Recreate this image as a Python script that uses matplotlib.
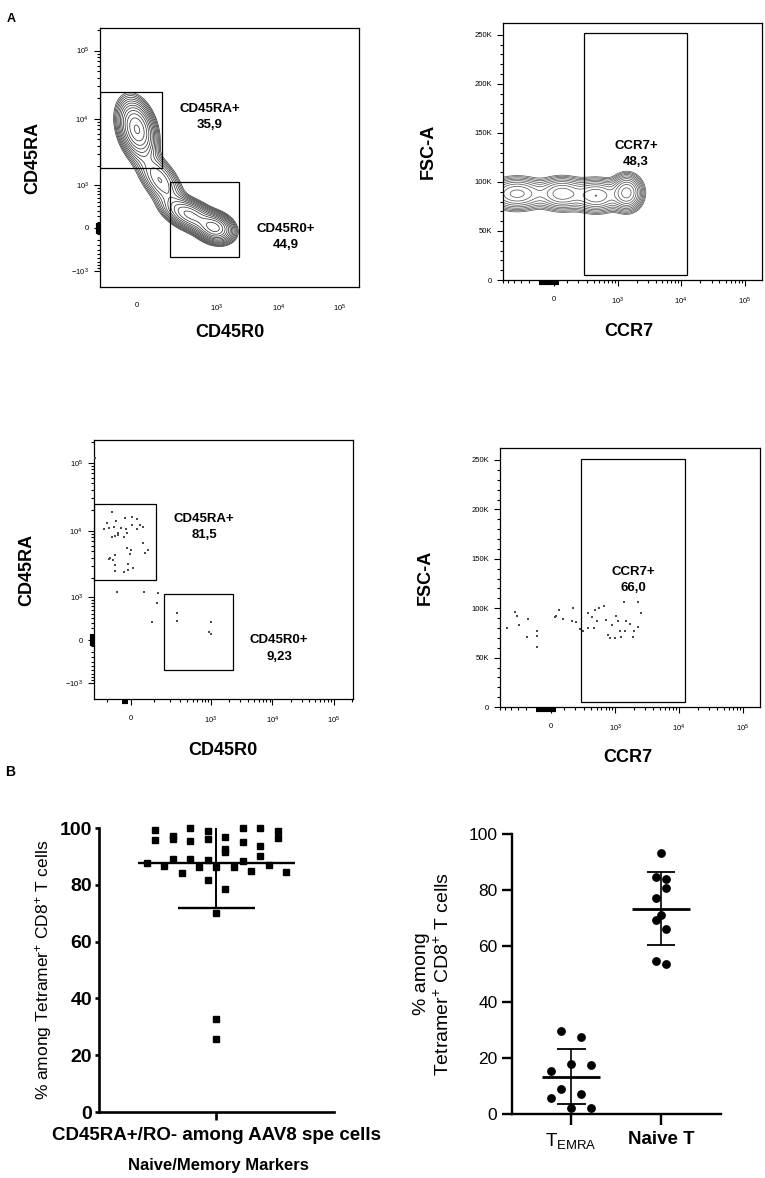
import numpy as np
import matplotlib
matplotlib.use("Agg")
import matplotlib.pyplot as plt
import matplotlib.transforms as mtransforms
from matplotlib.patches import Rectangle
from matplotlib.ticker import NullFormatter

plt.rcParams['font.family'] = ['Liberation Sans', 'DejaVu Sans']
plt.rcParams['mathtext.fontset'] = 'custom'
plt.rcParams['mathtext.rm'] = 'Liberation Sans'
plt.rcParams['mathtext.it'] = 'Liberation Sans:italic'
plt.rcParams['mathtext.bf'] = 'Liberation Sans:bold'
plt.rcParams['mathtext.default'] = 'regular'

# ------------------------------------------------------------------
# display scales (arcsinh linear widths) and axis ranges
# ------------------------------------------------------------------
W_RO = 100        # CD45R0 axis
W_RA = 500        # CD45RA axis
W_CCR7 = 200      # CCR7 axis
CD45RO_LIM = (-187, 205000)
CD45RA_LIM = (-1800, 215000)
CCR7_LIM = (-610, 186000)
FSC_LIM = (0, 262144)

# ------------------------------------------------------------------
# panel A, top row: contour plots of total CD8 T cells
# sub-populations (centre in data units, spread in arcsinh units)
# ------------------------------------------------------------------
pop_cd45ro = [0, 97, 359, 925]
pop_cd45ra = [7000, 1210, 227, 0]
pop_cd45ro_sd = [0.35, 0.45, 0.5, 0.35]
pop_cd45ra_sd = [0.5, 0.5, 0.3, 0.25]
pop_cd45_rho = [-0.3, -0.6, -0.5, -0.2]
pop_cd45_weight = [1.0, 0.35, 0.8, 1.0]

pop_ccr7 = [-350, 60, 450, 1400]
pop_fsc = [88000, 88000, 86000, 89000]
pop_ccr7_sd = [0.55, 0.45, 0.45, 0.28]
pop_fsc_sd = [8500, 8500, 8500, 9000]
pop_ccr7_weight = [0.55, 0.6, 0.65, 1.0]

# gates: x0, x1, y0, y1
gate_ra = [-187, 108, 1850, 24500]
gate_ro = [158, 2250, -585, 1110]
gate_ccr7 = [262, 12400, 5000, 251500]
gate_names_cd45 = ['CD45RA+', 'CD45R0+']
freq_cd45_total = ['35,9', '44,9']
freq_cd45_spe = ['81,5', '9,23']
gate_name_ccr7 = 'CCR7+'
freq_ccr7_total = '48,3'
freq_ccr7_spe = '66,0'

# ------------------------------------------------------------------
# panel A, bottom row: AAV8-specific events (arcsinh display units)
# ------------------------------------------------------------------
spe_ro_asinh = [-0.725, -0.91, -0.56, -0.225, 0.05, 0.21, 0.46, 0.34, -1.01, -0.81,
                -0.64, -0.39, -0.19, 0.03, 0.24, -0.475, -0.725, -0.60, -0.475, -0.26,
                -0.16, 0.46, 0.525, 0.65, -0.16, 0.0, -0.04, -0.79, -0.60, -0.81,
                -0.66, -0.60, -0.10, 0.075, -0.60, -0.26, -0.10, -0.54, 0.49, 1.025,
                0.99, 0.775, 1.74, 1.71, 2.99, 2.925, 3.0, -1.33]
spe_ra_asinh = [4.32, 3.94, 4.02, 4.11, 4.16, 4.08, 3.83, 3.89, 3.74, 3.80,
                3.82, 3.80, 3.74, 3.89, 3.75, 3.63, 3.48, 3.51, 3.54, 3.48,
                3.60, 3.29, 2.94, 3.04, 3.12, 3.03, 2.89, 2.78, 2.87, 2.73,
                2.69, 2.53, 2.58, 2.44, 2.33, 2.31, 2.35, 1.61, 1.63, 1.60,
                1.24, 0.62, 0.92, 0.64, 0.62, 0.28, 0.21, 6.16]
spe_ccr7_asinh = [-1.58, -1.28, -1.24, -1.155, -0.81, -0.87, -0.505, -0.49, -0.52, 0.13,
                  0.17, 0.29, 0.445, 0.79, 0.745, 0.915, 1.05, 1.17, 1.335, 1.35,
                  1.49, 1.55, 1.59, 1.73, 1.91, 2.0, 2.05, 2.12, 2.30, 2.335,
                  2.43, 2.48, 2.54, 2.635, 2.66, 2.695, 2.84, 2.96, 3.0, 3.12,
                  3.15, 3.26, 1.67, 2.21]
spe_fsc = [80300, 96600, 92500, 83300, 88700, 71100, 77200, 71800, 61000, 90800,
           92500, 98600, 89100, 100300, 87400, 85700, 79300, 76500, 80300, 95500,
           91400, 79600, 98200, 100600, 101900, 88400, 72800, 69400, 69400, 91800,
           87400, 77200, 71100, 106400, 77200, 87400, 84000, 71100, 76500, 106400,
           81300, 95500, 87400, 83300]

# ------------------------------------------------------------------
# panel B data
# ------------------------------------------------------------------
naive_mem_pct = [99.4, 95.7, 97.2, 96.0, 100, 95.5, 99, 96.1, 96.7, 92.7,
                 91.5, 100, 95, 100, 93.7, 90, 98.8, 96.5, 87.8, 86.5,
                 89, 84.2, 89, 86.4, 88.6, 86.3, 81.6, 78.5, 86.3, 88.3,
                 85, 87.1, 84.5, 70.2, 32.6, 25.8]
naive_mem_slot = [-7, -7, -5, -5, -3, -3, -1, -1, 1, 1,
                  1, 3, 3, 5, 5, 5, 7, 7, -8, -6,
                  -5, -4, -3, -2, -1, 0, -1, 1, 2, 3,
                  4, 6, 8, 0, 0, 0]
naive_mem_label = 'CD45RA+/RO- among AAV8 spe cells'

subset_names = [r'T$_{EMRA}$', 'Naive T']
temra_pct = [29.8, 27.5, 15.2, 17.7, 17.4, 9.0, 7.0, 5.6, 2.3, 2.0]
temra_slot = [-1, 1, -2, 0, 2, -1, 1, -2, 0, 2]
naive_pct = [93.3, 84.5, 83.9, 80.6, 77.0, 71.1, 69.3, 66.0, 54.5, 53.6]
naive_slot = [0, -0.55, 0.55, 0.55, -0.55, 0, -0.55, 0.55, -0.55, 0.55]

# ------------------------------------------------------------------
# helpers
# ------------------------------------------------------------------
LOG_MINORS = np.concatenate([np.arange(-900, 0, 100), np.arange(100, 1000, 100),
                             np.arange(2000, 10000, 1000), np.arange(20000, 100000, 10000),
                             [200000]])
X_MAJ = [0, 1e3, 1e4, 1e5]
X_LAB = ['0', r'$10^{3}$', r'$10^{4}$', r'$10^{5}$']
Y_MAJ = [-1e3, 0, 1e3, 1e4, 1e5]
Y_LAB = [r'$-10^{3}$', '0', r'$10^{3}$', r'$10^{4}$', r'$10^{5}$']
TICK_FS = 5.5


def asinh_axis(ax, which, width, lim, majors, labels):
    minors = [m for m in LOG_MINORS if lim[0] < m < lim[1]]
    if which == 'x':
        ax.set_xscale('asinh', linear_width=width)
        ax.set_xlim(lim)
        ax.set_xticks(majors, labels)
        ax.set_xticks(minors, minor=True)
        ax.xaxis.set_minor_formatter(NullFormatter())
    else:
        ax.set_yscale('asinh', linear_width=width)
        ax.set_ylim(lim)
        ax.set_yticks(majors, labels)
        ax.set_yticks(minors, minor=True)
        ax.yaxis.set_minor_formatter(NullFormatter())


def fsc_axis(ax):
    ax.set_ylim(FSC_LIM)
    ax.set_yticks([0, 50000, 100000, 150000, 200000, 250000],
                  ['0', '50K', '100K', '150K', '200K', '250K'])
    ax.set_yticks(np.arange(10000, 260000, 10000), minor=True)


def flow_frame(ax, xticks=True):
    for s in ax.spines.values():
        s.set_linewidth(0.9)
    ax.tick_params(axis='both', which='both', direction='out', width=0.8,
                   labelsize=TICK_FS, top=False, right=False)
    ax.tick_params(axis='both', which='major', length=4)
    ax.tick_params(axis='both', which='minor', length=2.2)
    ax.tick_params(axis='y', which='major', pad=4)
    if xticks:
        ax.tick_params(axis='x', which='major', pad=7.5)
    else:
        ax.tick_params(axis='x', which='both', length=0)
        ax.tick_params(axis='x', which='major', pad=11)


def mixture_density(gx, gy, cx, cy, sx, sy, rho, wt):
    z = np.zeros_like(gx)
    for a, b, s1, s2, r, w in zip(cx, cy, sx, sy, rho, wt):
        u = (gx - a) / s1
        v = (gy - b) / s2
        z += w * np.exp(-(u * u - 2 * r * u * v + v * v) / (2 * (1 - r * r)))
    return z


def gate(ax, g):
    ax.add_patch(Rectangle((g[0], g[2]), g[1] - g[0], g[3] - g[2], fill=False,
                           edgecolor='black', linewidth=0.9, zorder=4))


def gate_label(ax, x, y, text):
    ax.text(x, y, text, transform=ax.transAxes, ha='center', va='center',
            fontsize=9.5, fontweight='bold', linespacing=1.45)


def pile_y(ax, y0, y1):
    tr = mtransforms.blended_transform_factory(ax.transAxes, ax.transData)
    ax.plot([-0.008, -0.008], [y0, y1], transform=tr, color='black', lw=3,
            solid_capstyle='butt', clip_on=False)


def pile_x(ax, x0, x1):
    tr = mtransforms.blended_transform_factory(ax.transData, ax.transAxes)
    ax.plot([x0, x1], [-0.012, -0.012], transform=tr, color='black', lw=3,
            solid_capstyle='butt', clip_on=False)


fig = plt.figure(figsize=(7.65, 11.78), dpi=100)

# ------------------------------------------------------------------
# A1: CD45R0 vs CD45RA contour
# ------------------------------------------------------------------
ax1 = fig.add_axes([0.1307, 0.7564, 0.3386, 0.2199])
asinh_axis(ax1, 'x', W_RO, CD45RO_LIM, X_MAJ, X_LAB)
asinh_axis(ax1, 'y', W_RA, CD45RA_LIM, Y_MAJ, Y_LAB)
tx = np.linspace(np.arcsinh(CD45RO_LIM[0] / W_RO) - 0.3, np.arcsinh(CD45RO_LIM[1] / W_RO), 420)
ty = np.linspace(np.arcsinh(CD45RA_LIM[0] / W_RA) - 0.3, np.arcsinh(CD45RA_LIM[1] / W_RA), 420)
GX, GY = np.meshgrid(tx, ty)
Z = mixture_density(GX, GY, np.arcsinh(np.array(pop_cd45ro) / W_RO),
                    np.arcsinh(np.array(pop_cd45ra) / W_RA),
                    pop_cd45ro_sd, pop_cd45ra_sd, pop_cd45_rho, pop_cd45_weight)
ax1.contour(W_RO * np.sinh(GX), W_RA * np.sinh(GY), Z,
            levels=Z.max() * np.geomspace(0.04, 0.85, 13),
            colors='#3a3a3a', linewidths=0.55)
gate(ax1, gate_ra)
gate(ax1, gate_ro)
gate_label(ax1, 0.425, 0.656, gate_names_cd45[0] + '\n' + freq_cd45_total[0])
gate_label(ax1, 0.718, 0.193, gate_names_cd45[1] + '\n' + freq_cd45_total[1])
pile_y(ax1, -110, 90)
flow_frame(ax1, xticks=False)
ax1.set_xlabel('CD45R0', fontsize=13, fontweight='bold', va='center')
ax1.xaxis.set_label_coords(0.5, -0.174)
ax1.set_ylabel('CD45RA', fontsize=13, fontweight='bold', va='center')
ax1.yaxis.set_label_coords(-0.259, 0.5)

# ------------------------------------------------------------------
# A2: CCR7 vs FSC-A contour
# ------------------------------------------------------------------
ax2 = fig.add_axes([0.6575, 0.7623, 0.3386, 0.2182])
asinh_axis(ax2, 'x', W_CCR7, CCR7_LIM, X_MAJ, X_LAB)
fsc_axis(ax2)
tx = np.linspace(np.arcsinh(CCR7_LIM[0] / W_CCR7) - 0.6, np.arcsinh(CCR7_LIM[1] / W_CCR7), 420)
ty = np.linspace(0, FSC_LIM[1], 420)
GX, GY = np.meshgrid(tx, ty)
Z = mixture_density(GX, GY, np.arcsinh(np.array(pop_ccr7) / W_CCR7), np.array(pop_fsc),
                    pop_ccr7_sd, pop_fsc_sd, [0, 0, 0, 0], pop_ccr7_weight)
ax2.contour(W_CCR7 * np.sinh(GX), GY, Z,
            levels=Z.max() * np.geomspace(0.05, 0.85, 11),
            colors='#5a5a5a', linewidths=0.55)
gate(ax2, gate_ccr7)
gate_label(ax2, 0.514, 0.492, gate_name_ccr7 + '\n' + freq_ccr7_total)
pile_x(ax2, -115, 36)
flow_frame(ax2)
ax2.set_xlabel('CCR7', fontsize=13, fontweight='bold', va='center')
ax2.xaxis.set_label_coords(0.486, -0.202)
ax2.set_ylabel('FSC-A', fontsize=13, fontweight='bold', va='center')
ax2.yaxis.set_label_coords(-0.288, 0.5)

# ------------------------------------------------------------------
# A3: AAV8-specific CD45R0 vs CD45RA dots
# ------------------------------------------------------------------
ax3 = fig.add_axes([0.1229, 0.4066, 0.3386, 0.2199])
asinh_axis(ax3, 'x', W_RO, CD45RO_LIM, X_MAJ, X_LAB)
asinh_axis(ax3, 'y', W_RA, CD45RA_LIM, Y_MAJ, Y_LAB)
ax3.scatter(W_RO * np.sinh(np.array(spe_ro_asinh)), W_RA * np.sinh(np.array(spe_ra_asinh)),
            s=0.9, c='#4a4a4a', marker='s', linewidths=0, zorder=3)
gate(ax3, gate_ra)
gate(ax3, gate_ro)
gate_label(ax3, 0.425, 0.664, gate_names_cd45[0] + '\n' + freq_cd45_spe[0])
gate_label(ax3, 0.714, 0.195, gate_names_cd45[1] + '\n' + freq_cd45_spe[1])
pile_y(ax3, -100, 100)
pile_x(ax3, -35, -11)
flow_frame(ax3)
ax3.set_xlabel('CD45R0', fontsize=13, fontweight='bold', va='center')
ax3.xaxis.set_label_coords(0.496, -0.197)
ax3.set_ylabel('CD45RA', fontsize=13, fontweight='bold', va='center')
ax3.yaxis.set_label_coords(-0.26, 0.5)

# ------------------------------------------------------------------
# A4: AAV8-specific CCR7 vs FSC-A dots
# ------------------------------------------------------------------
ax4 = fig.add_axes([0.6536, 0.3998, 0.3399, 0.2199])
asinh_axis(ax4, 'x', W_CCR7, CCR7_LIM, X_MAJ, X_LAB)
fsc_axis(ax4)
ax4.scatter(W_CCR7 * np.sinh(np.array(spe_ccr7_asinh)), spe_fsc,
            s=0.9, c='#4a4a4a', marker='s', linewidths=0, zorder=3)
gate(ax4, gate_ccr7)
gate_label(ax4, 0.512, 0.492, gate_name_ccr7 + '\n' + freq_ccr7_spe)
pile_x(ax4, -115, 36)
flow_frame(ax4)
ax4.set_xlabel('CCR7', fontsize=13, fontweight='bold', va='center')
ax4.xaxis.set_label_coords(0.492, -0.193)
ax4.set_ylabel('FSC-A', fontsize=13, fontweight='bold', va='center')
ax4.yaxis.set_label_coords(-0.286, 0.5)

# ------------------------------------------------------------------
# B left: CD45RA+/RO- among AAV8 specific cells
# ------------------------------------------------------------------
axb1 = fig.add_axes([0.1294, 0.0560, 0.3072, 0.2411])
vals = np.array(naive_mem_pct)
m, sd = vals.mean(), vals.std(ddof=1)
axb1.plot(np.array(naive_mem_slot) * 0.0743, vals, ls='none', marker='s', ms=4.8,
          color='black', clip_on=False, zorder=2)
axb1.hlines(m, -0.672, 0.672, color='black', lw=1.7, zorder=3)
axb1.vlines(0, m - sd, m + sd, color='black', lw=1.4, zorder=3)
axb1.hlines([m - sd, m + sd], -0.33, 0.33, color='black', lw=1.7, zorder=3)
axb1.set_xlim(-1, 1)
axb1.set_ylim(0, 100)
axb1.set_yticks([0, 20, 40, 60, 80, 100])
axb1.set_xticks([0], [naive_mem_label])
for s in ['top', 'right']:
    axb1.spines[s].set_visible(False)
for s in ['left', 'bottom']:
    axb1.spines[s].set_linewidth(1.9)
axb1.tick_params(axis='y', length=3, width=1.9, pad=2, labelsize=14)
axb1.tick_params(axis='x', length=6, width=1.9, pad=5, labelsize=13.5)
for t in axb1.get_yticklabels() + axb1.get_xticklabels():
    t.set_fontweight('bold')
axb1.set_ylabel(r'% among Tetramer$^{+}$ CD8$^{+}$ T cells', fontsize=12.5, va='center')
axb1.yaxis.set_label_coords(-0.238, 0.5)
axb1.set_xlabel('Naive/Memory Markers', fontsize=12, fontweight='bold', va='center')
axb1.xaxis.set_label_coords(0.509, -0.187)

# ------------------------------------------------------------------
# B right: TEMRA vs naive T
# ------------------------------------------------------------------
axb2 = fig.add_axes([0.6693, 0.0543, 0.2732, 0.2377])
for i, (v, sl) in enumerate([(temra_pct, temra_slot), (naive_pct, naive_slot)]):
    v = np.array(v)
    m, sd = v.mean(), v.std(ddof=1)
    axb2.plot(i + np.array(sl) * 0.111, v, ls='none', marker='o', ms=5.3,
              color='black', clip_on=False, zorder=2)
    axb2.hlines(m, i - 0.324, i + 0.324, color='black', lw=2.0, zorder=3)
    axb2.vlines(i, m - sd, m + sd, color='black', lw=1.2, zorder=3)
    axb2.hlines([m - sd, m + sd], i - 0.161, i + 0.161, color='black', lw=1.3, zorder=3)
axb2.set_xlim(-0.656, 1.667)
axb2.set_ylim(0, 100)
axb2.set_yticks([0, 20, 40, 60, 80, 100])
axb2.set_xticks([0, 1], subset_names)
axb2.get_xticklabels()[1].set_fontweight('bold')
for s in ['top', 'right']:
    axb2.spines[s].set_visible(False)
for s in ['left', 'bottom']:
    axb2.spines[s].set_linewidth(1.7)
axb2.tick_params(axis='y', length=7.5, width=1.7, pad=3, labelsize=12.5)
axb2.tick_params(axis='x', length=8, width=1.7, pad=4, labelsize=13.5)
axb2.set_ylabel('% among\n' + r'Tetramer$^{+}$ CD8$^{+}$ T cells', fontsize=14,
                va='center', linespacing=1.2)
axb2.yaxis.set_label_coords(-0.378, 0.5)

# panel letters
fig.text(0.0144, 0.9839, 'A', fontsize=9, fontweight='bold', ha='center', va='center')
fig.text(0.013, 0.3447, 'B', fontsize=10, fontweight='bold', ha='center', va='center')

fig.savefig('out.png', dpi=100)
